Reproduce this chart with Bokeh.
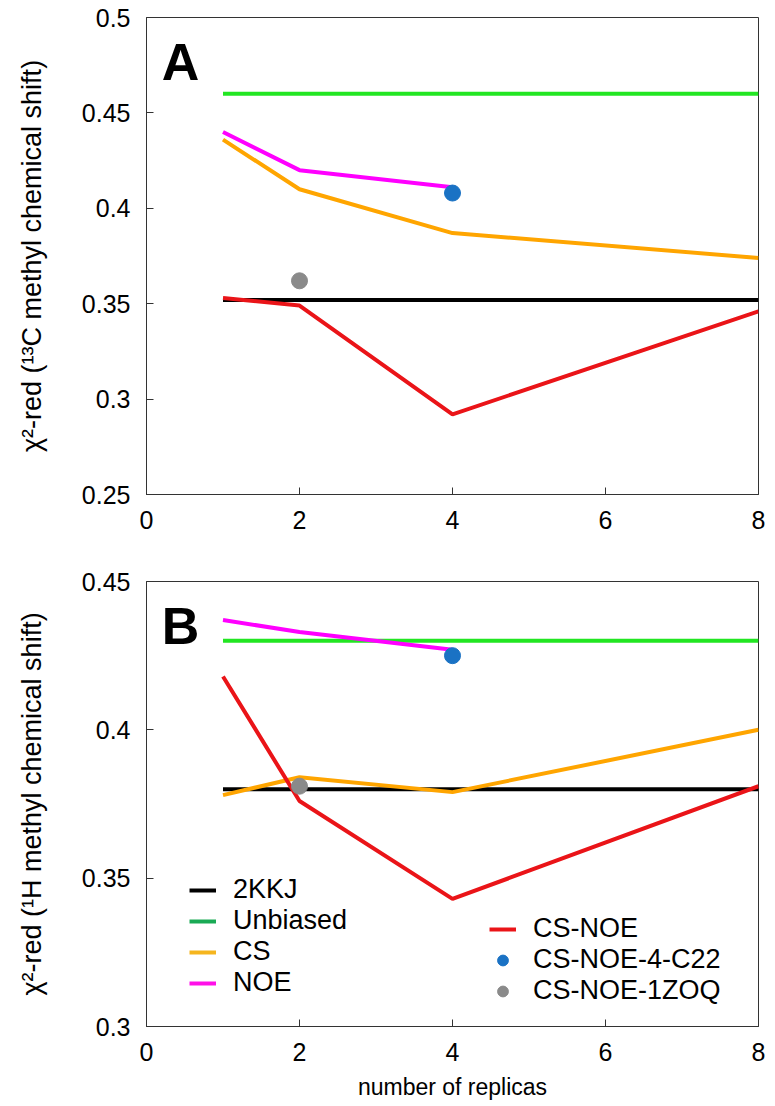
from bokeh.plotting import figure
from bokeh.models import Range1d, FixedTicker, Legend, LegendItem, Label
from bokeh.layouts import column
from bokeh.embed import file_html
from bokeh.resources import INLINE

FONT = "Liberation Sans"
NAN = float("nan")

# ---------------- data ----------------
x_ref = [1, 8]
x_all = [1, 2, 4, 8]
x_noe = [1, 2, 4]

# Panel A: 13C methyl chemical shift
a_2kkj = [0.352, 0.352]
a_unbiased = [0.460, 0.460]
a_cs = [0.436, 0.410, 0.387, 0.374]
a_noe = [0.440, 0.420, 0.411]
a_csnoe = [0.353, 0.349, 0.292, 0.346]
a_c22 = ([4], [0.408])
a_1zoq = ([2], [0.362])

# Panel B: 1H methyl chemical shift
b_2kkj = [0.380, 0.380]
b_unbiased = [0.430, 0.430]
b_cs = [0.378, 0.384, 0.379, 0.400]
b_noe = [0.437, 0.433, 0.427]
b_csnoe = [0.418, 0.376, 0.343, 0.381]
b_c22 = ([4], [0.425])
b_1zoq = ([2], [0.381])

x_ticks = [0, 2, 4, 6, 8]
a_ticks = [0.25, 0.3, 0.35, 0.4, 0.45, 0.5]
b_ticks = [0.3, 0.35, 0.4, 0.45]

C_BLACK = "#000000"
C_GREEN = "#22e622"
C_ORANGE = "#ffa500"
C_MAGENTA = "#ff00ff"
C_RED = "#ea1418"
C_BLUE = "#1a72c4"
C_GRAY = "#8a8a8a"
L_GREEN = "#1aaa55"
L_ORANGE = "#f5b51e"
L_MAGENTA = "#ff10e8"
LW = 4


def make_panel(y0, y1, yticks, ylabel, height, top, bottom, xlabel):
    p = figure(width=775, height=height, output_backend="svg", toolbar_location=None,
               x_range=Range1d(0, 8), y_range=Range1d(y0, y1),
               min_border_left=146, min_border_right=17,
               min_border_top=top, min_border_bottom=bottom)
    p.xgrid.visible = False
    p.ygrid.visible = False
    p.outline_line_color = "#333333"
    p.outline_line_width = 1
    p.background_fill_color = "white"
    p.border_fill_color = "white"
    p.xaxis.ticker = FixedTicker(ticks=x_ticks)
    p.yaxis.ticker = FixedTicker(ticks=yticks)
    p.yaxis.major_label_overrides = {t: ("%g" % t) for t in yticks}
    for ax in (p.xaxis, p.yaxis):
        ax.axis_line_color = "#333333"
        ax.major_tick_line_color = "#333333"
        ax.major_tick_in = 7
        ax.major_tick_out = 0
        ax.minor_tick_line_color = None
        ax.major_label_text_font = FONT
        ax.major_label_text_font_size = "25px"
        ax.major_label_text_color = "black"
        ax.major_label_standoff = 16
        ax.axis_label_text_font = FONT
        ax.axis_label_text_font_style = "normal"
        ax.axis_label_text_color = "black"
    p.yaxis.axis_label = ylabel
    p.yaxis.axis_label_text_font_size = "27px"
    p.yaxis.axis_label_standoff = 32
    if xlabel:
        p.xaxis.axis_label = xlabel
        p.xaxis.axis_label_text_font_size = "23px"
        p.xaxis.axis_label_standoff = 10
    return p


def draw(p, d2kkj, dunb, dcs, dnoe, dcsnoe, dc22, d1zoq):
    p.line(x_ref, dunb, line_color=C_GREEN, line_width=LW)
    p.line(x_ref, d2kkj, line_color=C_BLACK, line_width=LW)
    p.line(x_all, dcs, line_color=C_ORANGE, line_width=LW)
    p.line(x_noe, dnoe, line_color=C_MAGENTA, line_width=LW)
    p.line(x_all, dcsnoe, line_color=C_RED, line_width=LW)
    p.scatter(dc22[0], dc22[1], size=16, marker="circle", fill_color=C_BLUE, line_color=C_BLUE)
    p.scatter(d1zoq[0], d1zoq[1], size=16, marker="circle", fill_color=C_GRAY, line_color=C_GRAY)


pa = make_panel(0.25, 0.5, a_ticks, "\u03c7\u00b2-red (\u00b9\u00b3C methyl chemical shift)", 561, 17, 67, None)
draw(pa, a_2kkj, a_unbiased, a_cs, a_noe, a_csnoe, a_c22, a_1zoq)
pa.add_layout(Label(x=0.2, y=0.4768, text="A",
                    text_font=FONT, text_font_style="bold", text_font_size="52px",
                    text_color="black", text_baseline="alphabetic"))

pb = make_panel(0.3, 0.45, b_ticks, "\u03c7\u00b2-red (\u00b9H methyl chemical shift)", 541, 20, 72,
                "number of replicas")
draw(pb, b_2kkj, b_unbiased, b_cs, b_noe, b_csnoe, b_c22, b_1zoq)
pb.add_layout(Label(x=0.2, y=0.435, text="B",
                    text_font=FONT, text_font_style="bold", text_font_size="52px",
                    text_color="black", text_baseline="alphabetic"))

# legend proxies (no visible data, legend colours)
e = [NAN]
g1 = pb.line(e, e, line_color=C_BLACK, line_width=4)
g2 = pb.line(e, e, line_color=L_GREEN, line_width=4)
g3 = pb.line(e, e, line_color=L_ORANGE, line_width=4)
g4 = pb.line(e, e, line_color=L_MAGENTA, line_width=4)
g5 = pb.line(e, e, line_color=C_RED, line_width=4)
g6 = pb.scatter(e, e, size=15, marker="circle", fill_color=C_BLUE, line_color=C_BLUE)
g7 = pb.scatter(e, e, size=15, marker="circle", fill_color=C_GRAY, line_color=C_GRAY)


def style_legend(lg):
    lg.border_line_color = None
    lg.background_fill_alpha = 0
    lg.padding = 0
    lg.margin = 0
    lg.spacing = 0
    lg.glyph_width = 27
    lg.glyph_height = 30
    lg.label_height = 30
    lg.label_standoff = 17
    lg.label_text_font = FONT
    lg.label_text_font_size = "27px"
    lg.label_text_color = "black"


leg1 = Legend(items=[LegendItem(label="2KKJ", renderers=[g1]),
                     LegendItem(label="Unbiased", renderers=[g2]),
                     LegendItem(label="CS", renderers=[g3]),
                     LegendItem(label="NOE", renderers=[g4])],
              location=(43, 28))
leg2 = Legend(items=[LegendItem(label="CS-NOE", renderers=[g5]),
                     LegendItem(label="CS-NOE-4-C22", renderers=[g6]),
                     LegendItem(label="CS-NOE-1ZOQ", renderers=[g7])],
              location=(343, 20))
style_legend(leg1)
style_legend(leg2)
pb.add_layout(leg1, "center")
pb.add_layout(leg2, "center")

layout = column(pa, pb, spacing=0)
open("out.html", "w").write(file_html(layout, INLINE))
